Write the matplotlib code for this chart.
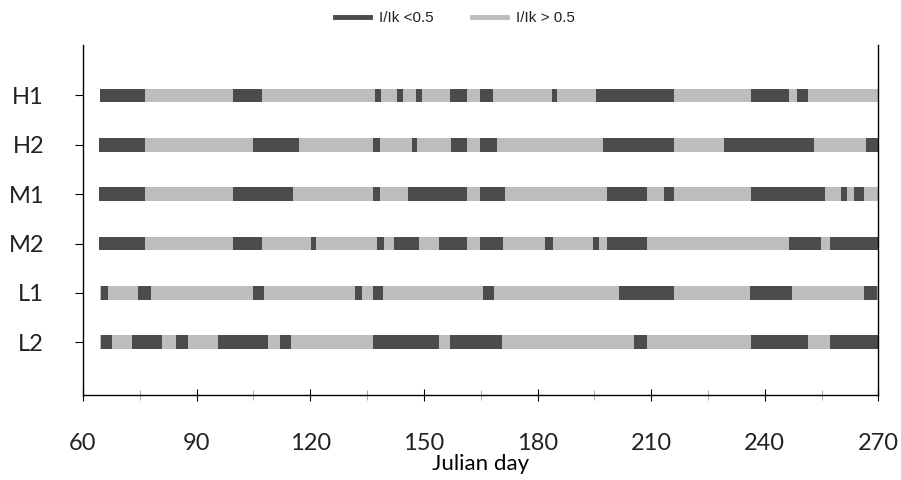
import matplotlib.pyplot as plt
from matplotlib.lines import Line2D
from matplotlib.ticker import MultipleLocator

plt.rcParams["font.family"] = ["Lato", "DejaVu Sans"]
plt.rcParams["text.color"] = "#222222"

rows = ["H1", "H2", "M1", "M2", "L1", "L2"]
start_day = 64.5
end_day = 270

# dark periods (I/Ik < 0.5) per row, as (start, end) Julian days
low_h1 = [(64.5, 76.4), (99.6, 107.4), (137.0, 138.7), (142.8, 144.4), (148.0, 149.5),
          (157.0, 161.5), (164.9, 168.3), (183.8, 185.1), (195.5, 216.1),
          (236.4, 246.3), (248.6, 251.5)]
low_h2 = [(64.3, 76.4), (104.8, 117.1), (136.7, 138.3), (146.8, 148.3), (157.1, 161.5),
          (164.7, 169.3), (197.4, 215.9), (229.1, 252.9), (266.6, 270.0)]
low_m1 = [(64.3, 76.4), (99.7, 115.4), (136.7, 138.4), (145.7, 161.5), (164.7, 171.5),
          (198.3, 209.0), (213.5, 215.9), (236.4, 256.0), (260.0, 261.7), (263.5, 266.1)]
low_m2 = [(64.3, 76.4), (99.7, 107.4), (120.1, 121.5), (137.6, 139.5), (142.0, 148.6),
          (154.1, 161.5), (164.9, 171.0), (182.0, 184.2), (194.6, 196.1), (198.3, 209.0),
          (246.3, 254.7), (257.3, 270.0)]
low_l1 = [(64.7, 66.7), (74.6, 77.9), (105.0, 107.8), (131.8, 133.6), (136.7, 139.1),
          (165.7, 168.4), (201.4, 215.9), (236.2, 247.2), (266.3, 269.5)]
low_l2 = [(64.7, 67.8), (72.9, 80.8), (84.7, 87.8), (95.7, 108.9), (111.9, 114.8),
          (136.7, 153.9), (156.8, 170.6), (205.4, 209.0), (236.4, 251.3), (257.3, 270.0)]
low_periods = [low_h1, low_h2, low_m1, low_m2, low_l1, low_l2]

dark = "#4b4b4b"
light = "#bdbdbd"

fig = plt.figure(figsize=(9.01, 4.8), dpi=100)
ax = fig.add_axes([0.092, 0.177, 0.883, 0.73])

n = len(rows)
for i, (name, periods) in enumerate(zip(rows, low_periods)):
    y = n - i
    ax.broken_barh([(start_day, end_day - start_day)], (y - 0.14, 0.28),
                   facecolors=light, edgecolor="none")
    ax.broken_barh([(a, b - a) for a, b in periods], (y - 0.14, 0.28),
                   facecolors=dark, edgecolor="none")

ax.set_xlim(60, 270)
ax.set_ylim(-0.07, 7.03)
ax.set_yticks([n - i for i in range(n)])
ax.set_yticklabels(rows, fontsize=17)
ax.xaxis.set_major_locator(MultipleLocator(30))
ax.xaxis.set_minor_locator(MultipleLocator(15))
ax.tick_params(axis="x", which="major", direction="inout", length=9, width=0.8,
               labelsize=17, pad=23, labelcolor="#222222")
ax.tick_params(axis="x", which="minor", direction="inout", length=7, width=0.6,
               color="#999999")
ax.tick_params(axis="y", direction="out", length=6, width=0.8, pad=22,
               labelcolor="#222222")
ax.set_xlabel("Julian day", fontsize=16, labelpad=0)
ax.spines["top"].set_visible(False)
for s in ("left", "bottom", "right"):
    ax.spines[s].set_linewidth(1.0)

handles = [Line2D([], [], color=dark, lw=3.5),
           Line2D([], [], color=light, lw=3.5)]
fig.legend(handles, ["I/Ik <0.5", "I/Ik > 0.5"], loc="upper center",
           bbox_to_anchor=(0.505, 1.005), ncol=2, frameon=False,
           handlelength=2.3, handletextpad=0.6, columnspacing=2.5,
           prop={"family": "Liberation Sans", "size": 11})

fig.savefig("out.png", dpi=100)
